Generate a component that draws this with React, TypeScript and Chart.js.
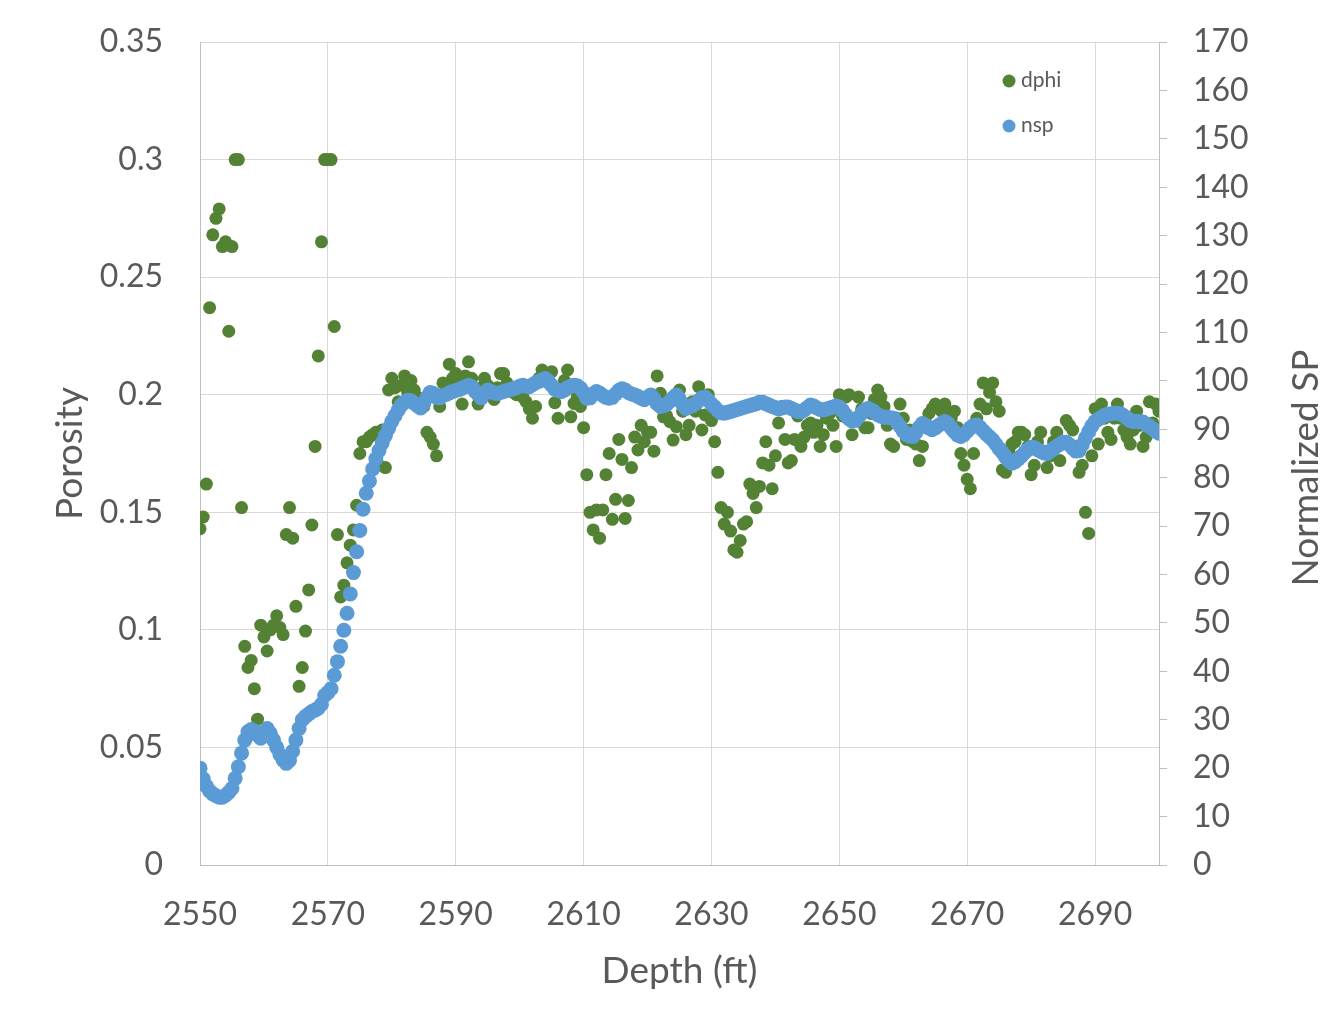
import React, { useEffect, useRef } from "react";
import { Chart, registerables } from "chart.js";

Chart.register(...registerables);

// Depth samples (ft)
const depthFt = [
  2550, 2550.5, 2551, 2551.5, 2552, 2552.5, 2553, 2553.5, 2554, 2554.5,
  2555, 2555.5, 2556, 2556.5, 2557, 2557.5, 2558, 2558.5, 2559, 2559.5,
  2560, 2560.5, 2561, 2561.5, 2562, 2562.5, 2563, 2563.5, 2564, 2564.5,
  2565, 2565.5, 2566, 2566.5, 2567, 2567.5, 2568, 2568.5, 2569, 2569.5,
  2570, 2570.5, 2571, 2571.5, 2572, 2572.5, 2573, 2573.5, 2574, 2574.5,
  2575, 2575.5, 2576, 2576.5, 2577, 2577.5, 2578, 2578.5, 2579, 2579.5,
  2580, 2580.5, 2581, 2581.5, 2582, 2582.5, 2583, 2583.5, 2584, 2584.5,
  2585, 2585.5, 2586, 2586.5, 2587, 2587.5, 2588, 2588.5, 2589, 2589.5,
  2590, 2590.5, 2591, 2591.5, 2592, 2592.5, 2593, 2593.5, 2594, 2594.5,
  2595, 2595.5, 2596, 2596.5, 2597, 2597.5, 2598, 2598.5, 2599, 2599.5,
  2600, 2600.5, 2601, 2601.5, 2602, 2602.5, 2603, 2603.5, 2604, 2604.5,
  2605, 2605.5, 2606, 2606.5, 2607, 2607.5, 2608, 2608.5, 2609, 2609.5,
  2610, 2610.5, 2611, 2611.5, 2612, 2612.5, 2613, 2613.5, 2614, 2614.5,
  2615, 2615.5, 2616, 2616.5, 2617, 2617.5, 2618, 2618.5, 2619, 2619.5,
  2620, 2620.5, 2621, 2621.5, 2622, 2622.5, 2623, 2623.5, 2624, 2624.5,
  2625, 2625.5, 2626, 2626.5, 2627, 2627.5, 2628, 2628.5, 2629, 2629.5,
  2630, 2630.5, 2631, 2631.5, 2632, 2632.5, 2633, 2633.5, 2634, 2634.5,
  2635, 2635.5, 2636, 2636.5, 2637, 2637.5, 2638, 2638.5, 2639, 2639.5,
  2640, 2640.5, 2641, 2641.5, 2642, 2642.5, 2643, 2643.5, 2644, 2644.5,
  2645, 2645.5, 2646, 2646.5, 2647, 2647.5, 2648, 2648.5, 2649, 2649.5,
  2650, 2650.5, 2651, 2651.5, 2652, 2652.5, 2653, 2653.5, 2654, 2654.5,
  2655, 2655.5, 2656, 2656.5, 2657, 2657.5, 2658, 2658.5, 2659, 2659.5,
  2660, 2660.5, 2661, 2661.5, 2662, 2662.5, 2663, 2663.5, 2664, 2664.5,
  2665, 2665.5, 2666, 2666.5, 2667, 2667.5, 2668, 2668.5, 2669, 2669.5,
  2670, 2670.5, 2671, 2671.5, 2672, 2672.5, 2673, 2673.5, 2674, 2674.5,
  2675, 2675.5, 2676, 2676.5, 2677, 2677.5, 2678, 2678.5, 2679, 2679.5,
  2680, 2680.5, 2681, 2681.5, 2682, 2682.5, 2683, 2683.5, 2684, 2684.5,
  2685, 2685.5, 2686, 2686.5, 2687, 2687.5, 2688, 2688.5, 2689, 2689.5,
  2690, 2690.5, 2691, 2691.5, 2692, 2692.5, 2693, 2693.5, 2694, 2694.5,
  2695, 2695.5, 2696, 2696.5, 2697, 2697.5, 2698, 2698.5, 2699, 2699.5,
  2700,
];

// Density porosity (left axis)
const dphi = [
  0.143, 0.148, 0.162, 0.237, 0.268, 0.275, 0.279, 0.263, 0.265, 0.227,
  0.263, 0.300, 0.300, 0.152, 0.093, 0.084, 0.087, 0.075, 0.062, 0.102,
  0.097, 0.091, 0.100, 0.102, 0.106, 0.101, 0.098, 0.1405, 0.152, 0.139,
  0.110, 0.076, 0.084, 0.0995, 0.117, 0.1446, 0.178, 0.2165, 0.265, 0.300,
  0.300, 0.300, 0.229, 0.1405, 0.114, 0.119, 0.1285, 0.136, 0.1425, 0.153,
  0.175, 0.180, 0.180, 0.182, 0.183, 0.184, 0.170, 0.185, 0.169, 0.202,
  0.207, 0.203, 0.197, 0.204, 0.208, 0.201, 0.206, 0.202, 0.199, 0.197,
  0.195, 0.184, 0.182, 0.179, 0.174, 0.195, 0.205, 0.203, 0.213, 0.207,
  0.209, 0.207, 0.196, 0.208, 0.214, 0.207, 0.201, 0.196, 0.203, 0.207,
  0.204, 0.200, 0.198, 0.203, 0.209, 0.209, 0.205, 0.203, 0.201, 0.200,
  0.201, 0.199, 0.197, 0.194, 0.190, 0.195, 0.207, 0.2105, 0.208, 0.205,
  0.2098, 0.1966, 0.190, 0.201, 0.206, 0.2105, 0.1906, 0.1963, 0.199, 0.195,
  0.186, 0.166, 0.150, 0.1425, 0.151, 0.139, 0.151, 0.166, 0.175, 0.147,
  0.1555, 0.181, 0.1725, 0.1474, 0.155, 0.169, 0.182, 0.1765, 0.187, 0.180,
  0.184, 0.184, 0.176, 0.208, 0.2006, 0.1906, 0.191, 0.1885, 0.1807, 0.1864,
  0.202, 0.193, 0.183, 0.187, 0.197, 0.193, 0.2034, 0.185, 0.1914, 0.200,
  0.189, 0.180, 0.167, 0.152, 0.145, 0.150, 0.142, 0.134, 0.133, 0.138,
  0.145, 0.146, 0.162, 0.158, 0.152, 0.161, 0.171, 0.180, 0.170, 0.160,
  0.174, 0.188, 0.195, 0.181, 0.171, 0.172, 0.181, 0.191, 0.178, 0.182,
  0.187, 0.188, 0.184, 0.187, 0.178, 0.183, 0.190, 0.192, 0.187, 0.178,
  0.200, 0.191, 0.199, 0.200, 0.183, 0.190, 0.199, 0.194, 0.186, 0.186,
  0.192, 0.198, 0.202, 0.199, 0.195, 0.187, 0.179, 0.178, 0.190, 0.196,
  0.190, 0.181, 0.185, 0.180, 0.179, 0.172, 0.178, 0.188, 0.192, 0.194,
  0.196, 0.195, 0.193, 0.196, 0.192, 0.190, 0.193, 0.186, 0.175, 0.170,
  0.164, 0.160, 0.175, 0.190, 0.196, 0.205, 0.194, 0.201, 0.205, 0.197,
  0.193, 0.168, 0.167, 0.176, 0.179, 0.180, 0.184, 0.184, 0.183, 0.178,
  0.166, 0.170, 0.180, 0.184, 0.176, 0.169, 0.174, 0.180, 0.184, 0.172,
  0.180, 0.189, 0.187, 0.185, 0.178, 0.167, 0.170, 0.150, 0.141, 0.174,
  0.194, 0.179, 0.196, 0.190, 0.184, 0.181, 0.190, 0.196, 0.190, 0.185,
  0.182, 0.179, 0.185, 0.193, 0.187, 0.178, 0.182, 0.197, 0.188, 0.196,
  0.193,
];

// Normalized SP (right axis)
const nsp = [
  20.0, 17.8, 16.3, 15.3, 14.7, 14.3, 14.0, 14.0, 14.4, 15.0,
  15.8, 17.9, 20.3, 23.1, 25.8, 27.5, 28.0, 27.7, 26.8, 26.2,
  27.3, 28.2, 27.2, 25.8, 24.3, 22.8, 21.7, 21.0, 21.6, 23.5,
  25.8, 28.2, 30.0, 30.7, 31.2, 31.7, 32.0, 32.4, 33.2, 35.0,
  35.6, 36.4, 39.2, 42.0, 45.2, 48.5, 52.0, 56.0, 60.4, 64.7,
  69.1, 73.5, 76.8, 79.3, 81.8, 83.9, 85.6, 87.2, 88.7, 90.2,
  91.6, 92.8, 94.0, 95.0, 95.6, 96.0, 95.9, 95.4, 94.9, 94.4,
  95.4, 96.6, 97.6, 97.4, 96.6, 96.5, 97.0, 97.2, 97.5, 97.8,
  98.0, 98.2, 98.5, 98.8, 99.1, 98.8, 98.0, 97.2, 96.5, 97.4,
  98.1, 97.8, 97.5, 97.4, 97.6, 97.8, 98.0, 98.2, 98.4, 98.6,
  98.9, 99.1, 98.9, 98.8, 99.2, 99.6, 99.9, 100.2, 100.5, 99.9,
  99.1, 98.3, 98.0, 97.8, 98.1, 98.6, 98.9, 99.1, 99.0, 98.5,
  97.6, 96.4, 96.5, 97.3, 97.8, 97.5, 97.0, 96.6, 96.4, 96.6,
  97.3, 98.0, 98.4, 98.1, 97.6, 97.3, 97.1, 96.8, 96.4, 96.1,
  96.6, 97.1, 96.3, 95.3, 94.7, 94.9, 95.2, 95.8, 96.5, 97.1,
  96.2, 95.1, 94.3, 94.6, 94.9, 95.3, 95.9, 96.5, 96.6, 96.0,
  95.2, 94.6, 93.9, 93.4, 93.3, 93.5, 93.7, 93.9, 94.1, 94.3,
  94.5, 94.7, 94.9, 95.1, 95.3, 95.6, 95.6, 95.3, 95.0, 94.7,
  94.5, 94.2, 94.4, 94.6, 94.6, 94.3, 94.0, 93.7, 93.6, 94.0,
  94.5, 95.0, 94.8, 94.4, 94.1, 94.0, 94.2, 94.4, 94.6, 94.8,
  94.6, 93.9, 93.0, 92.2, 91.7, 91.8, 92.5, 93.3, 94.0, 94.3,
  94.0, 93.5, 93.0, 92.7, 92.5, 92.5, 92.4, 92.3, 91.5, 90.6,
  89.6, 88.9, 88.6, 88.5, 89.4, 90.4, 91.2, 90.8, 90.3, 89.9,
  90.3, 90.8, 91.2, 91.6, 91.2, 90.3, 89.5, 88.8, 88.5, 88.9,
  89.6, 90.3, 90.8, 90.9, 90.4, 89.7, 89.0, 88.4, 87.8, 86.9,
  86.0, 85.2, 84.3, 83.5, 83.0, 83.3, 83.9, 84.5, 85.2, 85.8,
  86.3, 86.2, 85.8, 85.4, 85.1, 85.0, 85.5, 86.0, 86.5, 86.9,
  87.3, 87.3, 86.8, 86.1, 85.5, 85.6, 86.8, 88.2, 89.5, 90.7,
  91.6, 92.1, 92.5, 92.9, 93.1, 93.2, 93.3, 93.3, 93.2, 92.8,
  92.3, 91.8, 91.6, 91.6, 91.6, 91.5, 91.0, 90.6, 90.1, 89.6,
  89.2,
];

const depthTicks = [2550, 2570, 2590, 2610, 2630, 2650, 2670, 2690];
const porosityTicks = [0, 0.05, 0.1, 0.15, 0.2, 0.25, 0.3, 0.35];
const spTicks = [0, 10, 20, 30, 40, 50, 60, 70, 80, 90, 100, 110, 120, 130, 140, 150, 160, 170];

const seriesNames = ["dphi", "nsp"];
const seriesColors = ["#548235", "#5B9BD5"];
const axisTitles = { x: "Depth (ft)", left: "Porosity", right: "Normalized SP" };

const FONT = 'Lato, "Open Sans", "Liberation Sans", sans-serif';
const TEXT = "#595959";
const GRID = "#d9d9d9";
const AXIS = "#bfbfbf";

export default function App() {
  const canvasRef = useRef<HTMLCanvasElement>(null);

  useEffect(() => {
    const canvas = canvasRef.current;
    if (!canvas) return;

    const overlay = {
      id: "excelOverlay",
      afterDraw(chart: any) {
        const ctx = chart.ctx;
        ctx.save();
        // legend
        const items = [
          { name: seriesNames[0], color: seriesColors[0], y: 81 },
          { name: seriesNames[1], color: seriesColors[1], y: 126 },
        ];
        ctx.font = `21px ${FONT}`;
        ctx.textBaseline = "middle";
        ctx.textAlign = "left";
        for (const it of items) {
          ctx.beginPath();
          ctx.fillStyle = it.color;
          ctx.arc(1009, it.y, 6.5, 0, Math.PI * 2);
          ctx.fill();
          ctx.fillStyle = TEXT;
          ctx.fillText(it.name, 1021, it.y - 1);
        }
        // right axis title (reads bottom to top)
        ctx.translate(1306, 468);
        ctx.rotate(-Math.PI / 2);
        ctx.font = `37px ${FONT}`;
        ctx.textAlign = "center";
        ctx.textBaseline = "middle";
        ctx.fillStyle = TEXT;
        ctx.fillText(axisTitles.right, 0, 0);
        ctx.restore();
      },
    };

    const fixVertical = (width: number) => (axis: any) => {
      axis.width = width;
      axis.paddingTop = 0;
      axis.paddingBottom = 0;
    };

    const chart = new Chart(canvas, {
      type: "scatter",
      data: {
        datasets: [
          {
            label: seriesNames[0],
            data: depthFt.map((d, i) => ({ x: d, y: dphi[i] })),
            backgroundColor: seriesColors[0],
            borderWidth: 0,
            pointRadius: 6.5,
            yAxisID: "y",
            order: 1,
          },
          {
            label: seriesNames[1],
            data: depthFt.map((d, i) => ({ x: d, y: nsp[i] })),
            backgroundColor: seriesColors[1],
            borderWidth: 0,
            pointRadius: 7.5,
            yAxisID: "y1",
            order: 0,
          },
        ],
      },
      options: {
        responsive: false,
        animation: false,
        devicePixelRatio: 1,
        layout: { padding: { top: 42, left: 0, right: 0, bottom: 0 } },
        plugins: { legend: { display: false }, tooltip: { enabled: false } },
        scales: {
          x: {
            type: "linear",
            position: "bottom",
            min: 2550,
            max: 2700,
            afterBuildTicks: (axis: any) => {
              axis.ticks = depthTicks.map((v) => ({ value: v }));
            },
            afterFit: (axis: any) => {
              axis.height = 160;
              axis.paddingLeft = 0;
              axis.paddingRight = 0;
            },
            grid: { color: GRID, lineWidth: 1, drawTicks: false },
            border: { color: AXIS, width: 1 },
            ticks: {
              color: TEXT,
              font: { family: FONT, size: 32 },
              padding: 30,
              maxRotation: 0,
              autoSkip: false,
              callback: (v: any) => String(v),
            },
            title: {
              display: true,
              text: axisTitles.x,
              color: TEXT,
              font: { family: FONT, size: 37 },
              padding: { top: 0, bottom: 32 },
            },
          },
          y: {
            type: "linear",
            position: "left",
            min: 0,
            max: 0.35,
            afterBuildTicks: (axis: any) => {
              axis.ticks = porosityTicks.map((v) => ({ value: v }));
            },
            afterFit: fixVertical(200),
            grid: { color: GRID, lineWidth: 1, drawTicks: false },
            border: { color: AXIS, width: 1 },
            ticks: {
              color: TEXT,
              font: { family: FONT, size: 32 },
              padding: 37,
              autoSkip: false,
              callback: (v: any) => String(Math.round(Number(v) * 100) / 100),
            },
            title: {
              display: true,
              text: axisTitles.left,
              color: TEXT,
              font: { family: FONT, size: 37 },
              padding: { top: 48, bottom: 0 },
            },
          },
          y1: {
            type: "linear",
            position: "right",
            min: 0,
            max: 170,
            afterBuildTicks: (axis: any) => {
              axis.ticks = spTicks.map((v) => ({ value: v }));
            },
            afterFit: fixVertical(172),
            grid: { drawOnChartArea: false, drawTicks: true, tickLength: 8, color: AXIS, lineWidth: 1 },
            border: { color: AXIS, width: 1 },
            ticks: {
              color: TEXT,
              font: { family: FONT, size: 32 },
              padding: 26,
              autoSkip: false,
              callback: (v: any) => String(v),
            },
          },
        },
      },
      plugins: [overlay],
    });

    return () => chart.destroy();
  }, []);

  return (
    <div style={{ position: "fixed", left: 0, top: 0, width: 1331, height: 1025, background: "#ffffff" }}>
      <canvas ref={canvasRef} width={1331} height={1025} style={{ display: "block", width: 1331, height: 1025 }} />
    </div>
  );
}
